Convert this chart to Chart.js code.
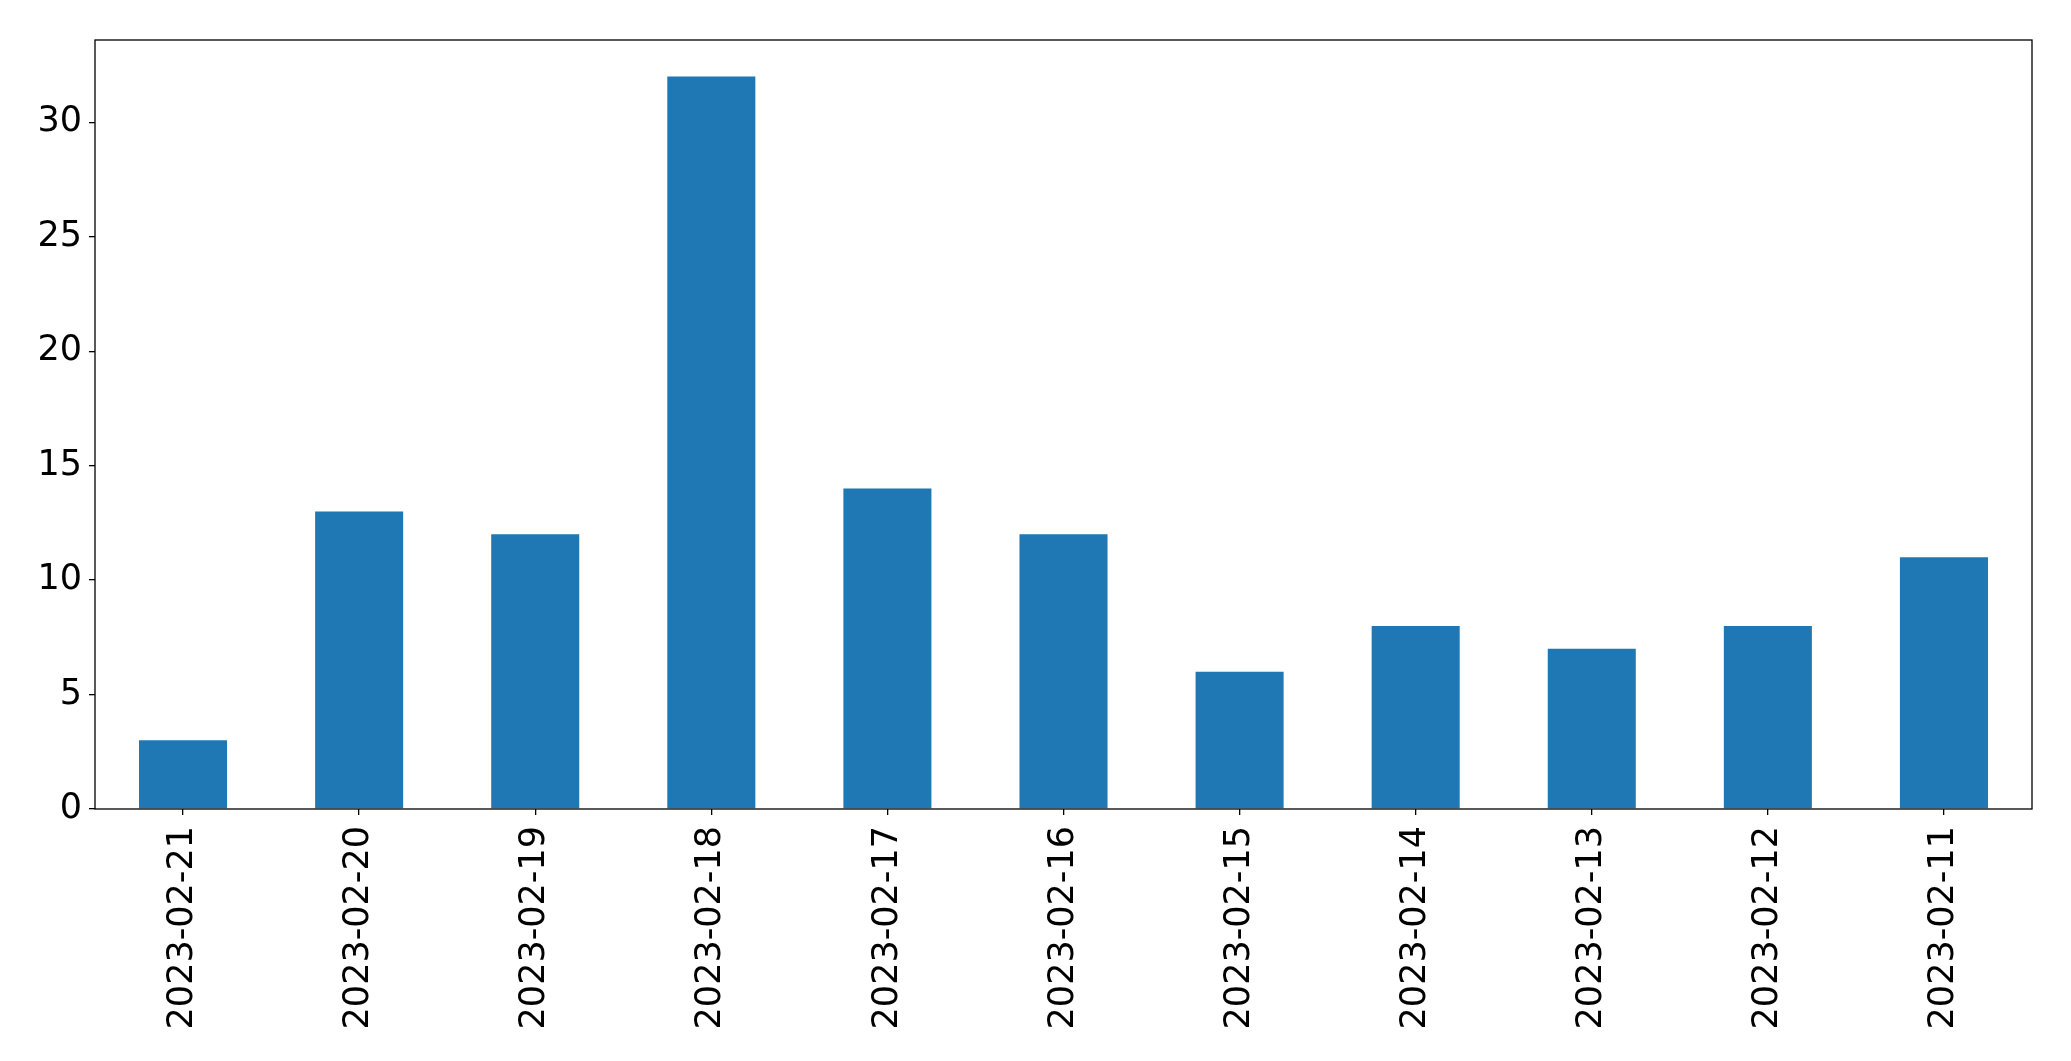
<!DOCTYPE html>
<html>
<head>
<meta charset="utf-8">
<script src="https://cdn.jsdelivr.net/npm/chart.js@4"></script>
<style>
  html, body { margin: 0; padding: 0; background: #fff; }
  #wrap { width: 2071px; height: 1061px; position: relative; }
</style>
</head>
<body>
<div id="wrap"><canvas id="chart"></canvas></div>
<script>
const dates = ['2023-02-21', '2023-02-20', '2023-02-19', '2023-02-18', '2023-02-17', '2023-02-16',
               '2023-02-15', '2023-02-14', '2023-02-13', '2023-02-12', '2023-02-11'];
const counts = [3, 13, 12, 32, 14, 12, 6, 8, 7, 8, 11];
const yTicks = [0, 5, 10, 15, 20, 25, 30];

const fontSpec = { family: 'DejaVu Sans', size: 35 };

// draws the box around the plot area (matplotlib spines)
const frame = {
    id: 'frame',
    afterDraw(chart) {
        const a = chart.chartArea;
        const ctx = chart.ctx;
        ctx.save();
        ctx.strokeStyle = '#000';
        ctx.lineWidth = 1.3;
        ctx.strokeRect(a.left, a.top, a.right - a.left, a.bottom - a.top);
        ctx.restore();
    }
};

new Chart(document.getElementById('chart'), {
    type: 'bar',
    data: {
        labels: dates,
        datasets: [{
            data: counts,
            backgroundColor: '#1f77b4',
            borderWidth: 0,
            categoryPercentage: 1.0,
            barPercentage: 0.5
        }]
    },
    options: {
        responsive: true,
        maintainAspectRatio: false,
        animation: false,
        layout: { padding: { top: 40, right: 39, left: 0, bottom: 0 } },
        plugins: {
            legend: { display: false },
            tooltip: { enabled: false }
        },
        scales: {
            x: {
                offset: true,
                grid: { display: true, drawOnChartArea: false, offset: false, tickLength: 6, color: '#000', lineWidth: 1.3 },
                border: { display: false },
                ticks: { color: '#000', font: fontSpec, minRotation: 90, maxRotation: 90, padding: 11, autoSkip: false },
                afterFit(scale) { scale.height = 252; }
            },
            y: {
                min: 0,
                max: 33.6,
                grid: { display: true, drawOnChartArea: false, tickLength: 6, color: '#000', lineWidth: 1.3 },
                border: { display: false },
                ticks: { color: '#000', font: fontSpec, stepSize: 5, padding: 7 },
                afterBuildTicks(scale) { scale.ticks = yTicks.map(v => ({ value: v })); },
                afterFit(scale) { scale.width = 95; }
            }
        }
    },
    plugins: [frame]
});
</script>
</body>
</html>
